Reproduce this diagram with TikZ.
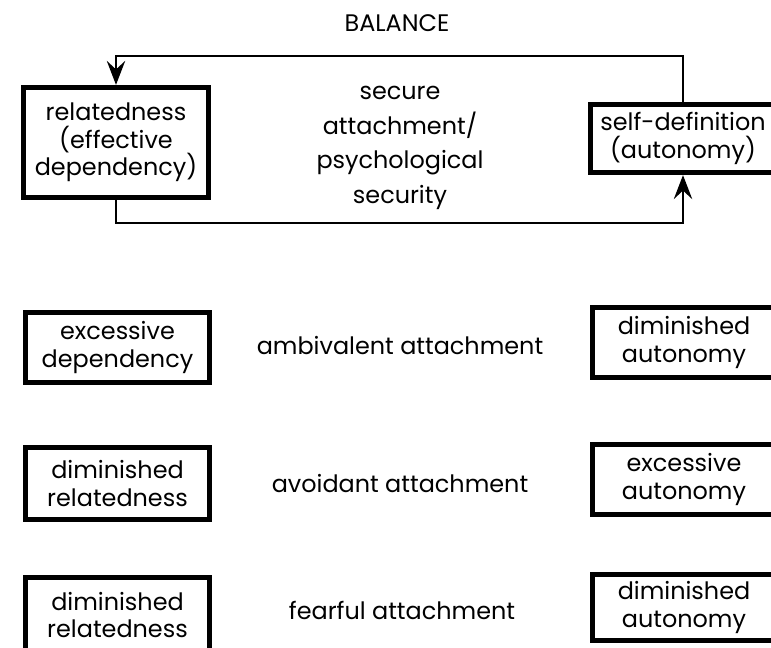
\documentclass[tikz,border=0pt]{standalone}
\usepackage{fontspec}
\setmainfont{Poppins}
\usetikzlibrary{arrows.meta}
\begin{document}
\begin{tikzpicture}[x=0.025cm, y=-0.025cm]
        \tikzstyle{box}=[draw, line width=3.4pt, align=center, inner sep=0pt, font=\fontsize{17}{19.5}\selectfont]
        \tikzstyle{lbl}=[align=center, font=\fontsize{17}{24.5}\selectfont]
        \tikzstyle{arr}=[line width=2.1pt, -{Stealth[length=17pt, width=13pt, inset=6pt]}]
            \useasboundingbox (0,0) rectangle (771,648);
            \clip (0,0) rectangle (771,648);
            % balanced pair
            \node[lbl, anchor=base] (balance) at (397,32) {BALANCE};
            \node[box, minimum width=4.64cm, minimum height=2.76cm] (rel) at (116,142.5) {relatedness\\(effective\\dependency)};
            \node[box, minimum width=4.64cm, minimum height=1.71cm] (self) at (683,138.5) {self-definition\\(autonomy)};
            \node[lbl] (secure) at (400,148) {secure\\attachment/\\psychological\\security};
            \coordinate (tl) at (116,56);
            \coordinate (tr) at (683,56);
            \coordinate (bl) at (116,223);
            \coordinate (br) at (683,223);
            \draw[arr] (self.north -| tr) -- (tr) -- (tl) -- (rel.north -| tl);
            \draw[arr] (rel.south -| bl) -- (bl) -- (br) -- (self.south -| br);
            % insecure patterns
            \node[box, minimum width=4.61cm, minimum height=1.76cm] (dep) at (117.5,347.5) {excessive\\dependency};
            \node[lbl, anchor=base] (ambi) at (400,355) {ambivalent attachment};
            \node[box, minimum width=4.59cm, minimum height=1.76cm] (dimaut) at (684,342.5) {diminished\\autonomy};
            \node[box, minimum width=4.61cm, minimum height=1.81cm] (dimrel) at (117.5,483.5) {diminished\\relatedness};
            \node[lbl, anchor=base] (avoid) at (400,493) {avoidant attachment};
            \node[box, minimum width=4.59cm, minimum height=1.76cm] (excaut) at (684,479.5) {excessive\\autonomy};
            \node[box, minimum width=4.61cm, minimum height=1.89cm] (dimrelb) at (117.5,615) {diminished\\relatedness};
            \node[lbl, anchor=base] (fear) at (402,620) {fearful attachment};
            \node[box, minimum width=4.59cm, minimum height=1.66cm] (dimautb) at (684,607.5) {diminished\\autonomy};
        \end{tikzpicture}
\end{document}
